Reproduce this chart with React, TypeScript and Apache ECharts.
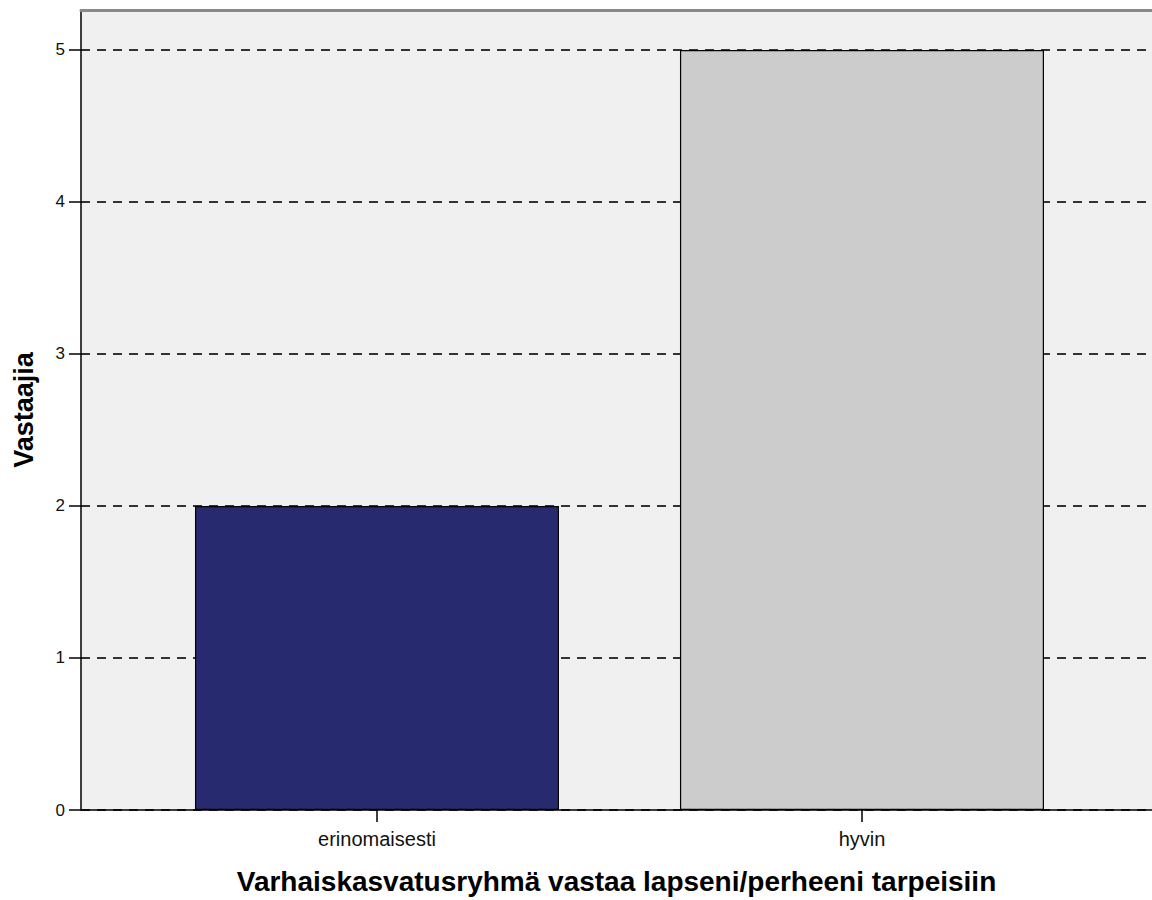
import React, { useEffect, useRef } from "react";
import * as echarts from "echarts";

const categories = ["erinomaisesti", "hyvin"];
const positions = [1, 2];
const counts = [2, 5];
const barColors = ["#282a70", "#cccccc"];
const yTicks = [0, 1, 2, 3, 4, 5];
const yTitle = "Vastaajia";
const xTitle = "Varhaiskasvatusryhmä vastaa lapseni/perheeni tarpeisiin";

export default function App() {
  const ref = useRef<HTMLDivElement>(null);
  useEffect(() => {
    if (!ref.current) return;
    const chart = echarts.init(ref.current, undefined, { renderer: "svg" });
    const font = "'Liberation Sans', Arial, sans-serif";
    chart.setOption({
      animation: false,
      backgroundColor: "#ffffff",
      grid: {
        left: 81,
        right: 0,
        top: 10,
        bottom: 90,
        show: true,
        backgroundColor: "#f0f0f0",
        borderWidth: 0,
      },
      xAxis: [
        {
          type: "value",
          min: 0.3897,
          max: 2.598,
          name: xTitle,
          nameLocation: "middle",
          nameGap: 57,
          nameTextStyle: {
            fontFamily: font,
            fontWeight: "bold",
            fontSize: 28,
            color: "#000",
          },
          axisLine: { show: true, lineStyle: { color: "#000", width: 1.5 } },
          axisTick: {
            show: true,
            customValues: positions,
            length: 12,
            lineStyle: { color: "#000", width: 1.5 },
          },
          axisLabel: {
            customValues: positions,
            formatter: (v: number) => categories[positions.indexOf(Math.round(v))] ?? "",
            fontFamily: font,
            fontSize: 20,
            color: "#111",
            margin: 19,
          },
          splitLine: { show: false },
        },
        {
          type: "value",
          position: "top",
          min: 0.3897,
          max: 2.598,
          axisLine: { show: true, lineStyle: { color: "#8a8a8a", width: 3 } },
          axisTick: { show: false },
          axisLabel: { show: false },
          splitLine: { show: false },
        },
      ],
      yAxis: {
        type: "value",
        min: 0,
        max: 5.263,
        interval: 1,
        name: yTitle,
        nameLocation: "middle",
        nameRotate: 90,
        nameGap: 44,
        nameTextStyle: {
          fontFamily: font,
          fontWeight: "bold",
          fontSize: 27,
          color: "#000",
        },
        axisLine: { show: true, lineStyle: { color: "#000", width: 1.5 } },
        axisTick: {
          show: true,
          customValues: yTicks,
          length: 12,
          lineStyle: { color: "#000", width: 1.5 },
        },
        axisLabel: {
          customValues: yTicks,
          fontFamily: font,
          fontSize: 17,
          color: "#111",
          margin: 16,
          formatter: (v: number) => String(v),
        },
        splitLine: {
          show: true,
          lineStyle: { color: "#333333", width: 1.8, type: [9, 7] },
        },
      },
      series: [
        {
          type: "bar",
          xAxisIndex: 0,
          barWidth: 364,
          data: positions.map((p, i) => ({
            value: [p, counts[i]],
            itemStyle: { color: barColors[i], borderColor: "#000", borderWidth: 1.2 },
          })),
        },
      ],
    });
    return () => chart.dispose();
  }, []);
  return (
    <div
      ref={ref}
      style={{ position: "absolute", left: 0, top: 0, width: 1152, height: 900 }}
    />
  );
}
